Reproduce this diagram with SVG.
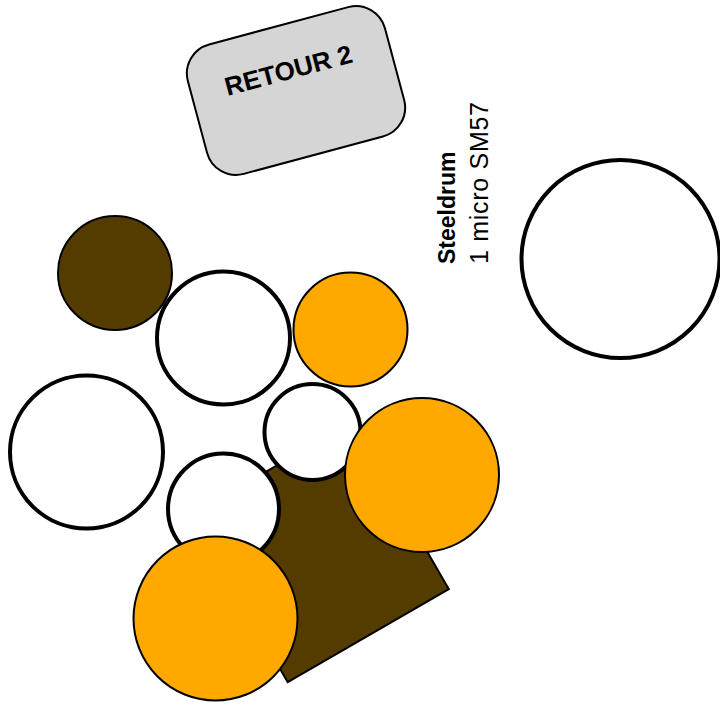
<svg xmlns="http://www.w3.org/2000/svg" width="720" height="707" viewBox="0 0 720 707">
<style>
.w{fill:#ffffff;stroke:#000;stroke-width:4}
.o{fill:#ffa800;stroke:#000;stroke-width:2}
.b{fill:#543c00;stroke:#000;stroke-width:2}
.box{fill:#d5d5d5;stroke:#000;stroke-width:2}
.t{font-family:"Liberation Sans",Arial,sans-serif;fill:#000}
</style>
<rect width="720" height="707" fill="#fff"/>
<g id="retour2" transform="translate(296,90.5) rotate(-15)">
<rect class="box" x="-102" y="-67" width="204" height="134" rx="30" ry="30"/>
<text class="t" x="-2" y="-12.5" font-size="26" font-weight="bold" text-anchor="middle">RETOUR 2</text>
</g>
<g id="steeldrum-label">
<text class="t" transform="translate(455,264) rotate(-90)" font-size="23" font-weight="bold">Steeldrum</text>
<text class="t" transform="translate(488,264) rotate(-90)" font-size="25" letter-spacing="0.7">1 micro SM57</text>
</g>
<g id="steeldrum"><circle class="w" cx="620.5" cy="259" r="99"/></g>
<g id="riser"><rect class="b" x="-93" y="-96.5" width="186" height="193" transform="translate(320,552) rotate(-30)"/></g>
<g id="cymbal-1"><circle class="b" cx="115" cy="273" r="57"/></g>
<g id="tom-1"><circle class="w" cx="223.5" cy="338" r="66.5"/></g>
<g id="cymbal-2"><circle class="o" cx="350.5" cy="329.5" r="57"/></g>
<g id="floor-tom"><circle class="w" cx="86.5" cy="452" r="76.5"/></g>
<g id="snare"><circle class="w" cx="312.5" cy="432" r="48"/></g>
<g id="cymbal-3"><circle class="o" cx="422" cy="475" r="77"/></g>
<g id="tom-2"><circle class="w" cx="223.5" cy="509" r="55.5"/></g>
<g id="cymbal-4"><circle class="o" cx="215.5" cy="618.5" r="82"/></g>
<g id="connectors"/>
</svg>
